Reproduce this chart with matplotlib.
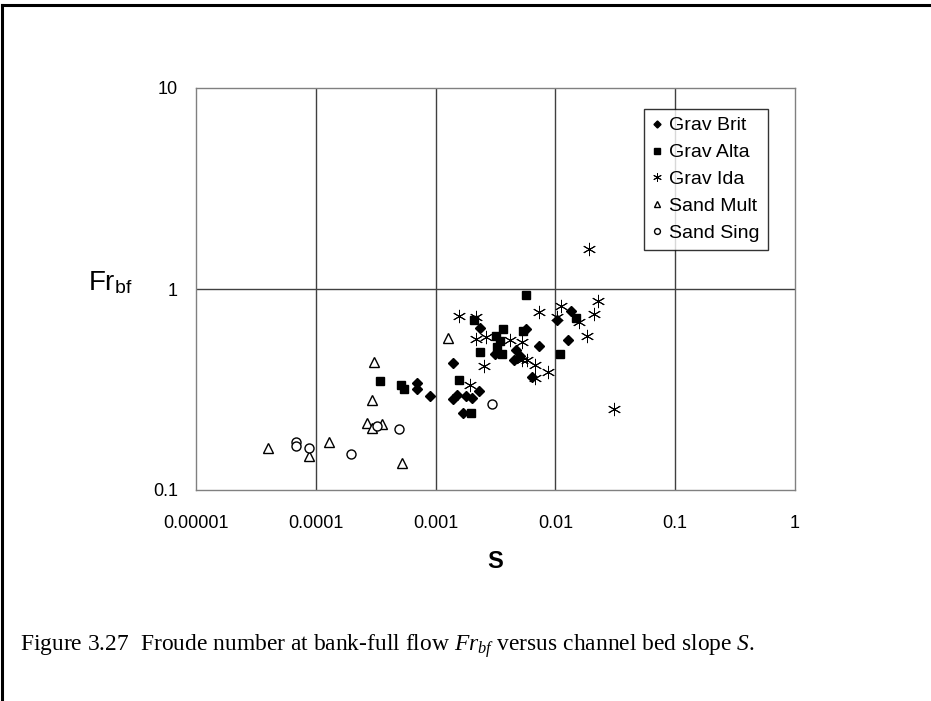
import numpy as np
import matplotlib
matplotlib.use('Agg')
import matplotlib.pyplot as plt
from matplotlib.lines import Line2D

plt.rcParams['font.family'] = ['Liberation Sans', 'DejaVu Sans']
plt.rcParams['mathtext.fontset'] = 'custom'
plt.rcParams['mathtext.rm'] = 'Liberation Serif'
plt.rcParams['mathtext.it'] = 'Liberation Serif:italic'

# slope S and bank-full Froude number
brit_s = [6.95e-4, 6.95e-4, 9.0e-4, 1.39e-3, 1.39e-3, 1.51e-3, 1.81e-3, 2.0e-3,
          2.29e-3, 1.68e-3, 2.37e-3, 3.16e-3, 4.7e-3, 4.5e-3, 5.1e-3, 5.7e-3,
          7.3e-3, 6.4e-3, 1.03e-2, 1.36e-2, 1.28e-2]
brit_fr = [0.34, 0.318, 0.294, 0.43, 0.283, 0.297, 0.292, 0.286,
           0.312, 0.241, 0.64, 0.475, 0.50, 0.443, 0.464, 0.635,
           0.522, 0.364, 0.70, 0.78, 0.557]

alta_s = [3.45e-4, 5.15e-4, 5.45e-4, 1.58e-3, 1.98e-3, 2.08e-3, 2.37e-3, 3.17e-3,
          3.47e-3, 3.26e-3, 3.58e-3, 3.66e-3, 5.36e-3, 5.68e-3, 1.09e-2, 1.48e-2]
alta_fr = [0.348, 0.333, 0.318, 0.354, 0.241, 0.699, 0.484, 0.582,
           0.553, 0.513, 0.475, 0.632, 0.616, 0.937, 0.477, 0.72]

ida_s = [1.56e-3, 1.92e-3, 2.19e-3, 2.19e-3, 2.52e-3, 2.61e-3, 4.2e-3, 5.3e-3,
         5.3e-3, 5.8e-3, 6.7e-3, 6.7e-3, 7.3e-3, 8.6e-3, 1.03e-2, 1.11e-2,
         1.57e-2, 1.85e-2, 1.9e-2, 2.09e-2, 2.26e-2, 3.08e-2]
ida_fr = [0.736, 0.333, 0.728, 0.564, 0.412, 0.575, 0.56, 0.543,
          0.445, 0.443, 0.419, 0.361, 0.77, 0.388, 0.728, 0.826,
          0.683, 0.582, 1.58, 0.754, 0.869, 0.253]

mult_s = [3.97e-5, 8.8e-5, 1.29e-4, 2.66e-4, 2.93e-4, 2.93e-4, 3.04e-4, 3.55e-4,
          5.25e-4, 1.26e-3]
mult_fr = [0.162, 0.148, 0.174, 0.215, 0.279, 0.203, 0.435, 0.213,
           0.137, 0.573]

sing_s = [6.9e-5, 6.9e-5, 8.8e-5, 1.95e-4, 3.26e-4, 4.98e-4, 2.97e-3]
sing_fr = [0.173, 0.166, 0.162, 0.151, 0.208, 0.200, 0.268]

x_ticks = [1e-5, 1e-4, 1e-3, 1e-2, 1e-1, 1]
x_labels = ['0.00001', '0.0001', '0.001', '0.01', '0.1', '1']
y_ticks = [0.1, 1, 10]
y_labels = ['0.1', '1', '10']

fig = plt.figure(figsize=(9.31, 7.01), dpi=100)
ax = fig.add_axes([196 / 931, 1 - 490 / 701, 599 / 931, 402 / 701])

star = (6, 2, 0)
ax.plot(brit_s, brit_fr, 'D', color='black', ms=5.5, ls='none', label='Grav Brit')
ax.plot(alta_s, alta_fr, 's', color='black', ms=6, ls='none', label='Grav Alta')
ax.plot(ida_s, ida_fr, marker=star, color='black', mec='black', ms=9.5, mew=0.7,
        ls='none', label='Grav Ida')
ax.plot(mult_s, mult_fr, '^', mfc='white', mec='black', ms=7.5, mew=1,
        ls='none', label='Sand Mult')
ax.plot(sing_s, sing_fr, 'o', mfc='white', mec='black', ms=6.5, mew=1,
        ls='none', label='Sand Sing')

ax.set_xscale('log')
ax.set_yscale('log')
ax.set_xlim(1e-5, 1)
ax.set_ylim(0.1, 10)
ax.set_xticks(x_ticks)
ax.set_xticklabels(x_labels)
ax.set_yticks(y_ticks)
ax.set_yticklabels(y_labels)
ax.minorticks_off()
ax.tick_params(length=0, labelsize=13)
ax.tick_params(axis='x', pad=18)
ax.tick_params(axis='y', pad=13)

for xv in x_ticks[1:-1]:
    ax.axvline(xv, color='#404040', lw=1, zorder=0)
ax.axhline(1, color='#404040', lw=1, zorder=0)
for sp in ax.spines.values():
    sp.set_color('#808080')
    sp.set_linewidth(1)

leg = ax.legend(loc='upper left', bbox_to_anchor=(644 / 931, 1 - 109 / 701),
                bbox_transform=fig.transFigure, fontsize=14, frameon=True,
                fancybox=False, edgecolor='black', handlelength=0.5,
                handletextpad=0.4, borderpad=0.4, labelspacing=0.48,
                markerscale=0.65, borderaxespad=0)
leg.get_frame().set_linewidth(1)

fig.text(88 / 931, 1 - 283 / 701, r'Fr$_\mathregular{bf}$', fontsize=20,
         ha='left', va='center')
fig.text(495 / 931, 1 - 562 / 701, 'S', fontsize=17, fontweight='bold',
         ha='center', va='center')

fig.text(20 / 931, 1 - 646 / 701,
         r'Figure 3.27  Froude number at bank-full flow $Fr_{bf}$ versus channel bed slope $S$.',
         fontsize=16.9, family='Liberation Serif', ha='left', va='center')

# page border lines (top and left)
fig.add_artist(Line2D([2 / 931, 930 / 931], [1 - 5 / 701, 1 - 5 / 701],
                      color='black', lw=2.2, transform=fig.transFigure))
fig.add_artist(Line2D([2 / 931, 2 / 931], [1 - 5 / 701, 0],
                      color='black', lw=2.2, transform=fig.transFigure))

fig.savefig('out.png', dpi=100)
